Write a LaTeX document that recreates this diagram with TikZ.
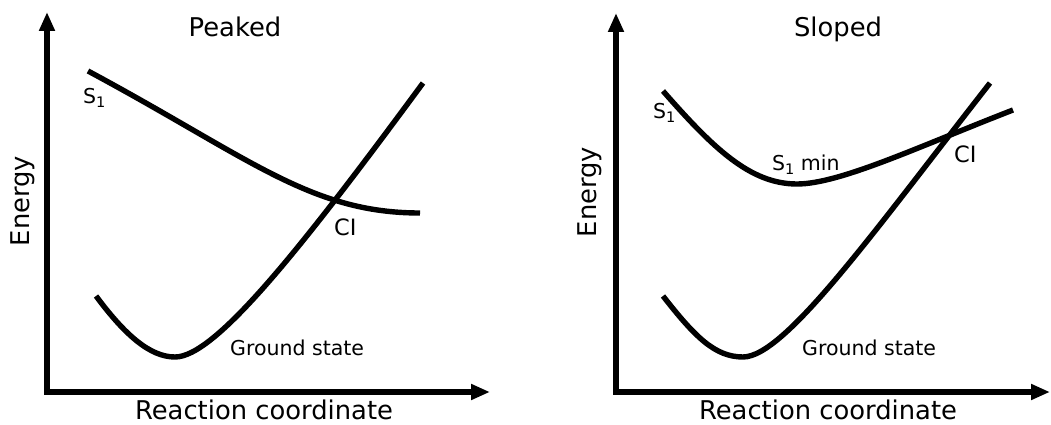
\documentclass[tikz,border=0pt]{standalone}
\usepackage{fontspec}
\setmainfont{DejaVu Sans}
\usetikzlibrary{arrows.meta}
\newcommand{\subone}{\raisebox{-4pt}{\fontsize{14.5}{14.5}\selectfont 1}}
\begin{document}
\begin{tikzpicture}[x=1pt,y=-1pt,
  axis/.style={line width=6pt, line join=miter,
    {Triangle[length=19pt,width=15pt]}-{Triangle[length=19pt,width=15pt]}},
  curve/.style={line width=5.4pt},
  title/.style={font=\fontsize{25.8}{30}\selectfont, anchor=base, inner sep=0pt},
  lbl/.style={font=\fontsize{20.5}{24}\selectfont, anchor=base west, inner sep=0pt},
  cilbl/.style={font=\fontsize{22.5}{26}\selectfont, anchor=base west, inner sep=0pt}]
\useasboundingbox (0,0) rectangle (1051,425);

% ---------- left panel: Peaked ----------
\coordinate (ytipL) at (47,12);
\coordinate (origL) at (47,392);
\coordinate (xtipL) at (490,392);
\draw[axis] (ytipL) -- (origL) -- (xtipL);

\draw[curve] (88,71) .. controls (250,158) and (310,213) .. (420,213);
\draw[curve] (96,296) .. controls (125,335) and (150,357) .. (175,357)
             .. controls (215,357) and (300,250) .. (423,83);

\node[title] (titleL) at (235,37) {Peaked};
\node[title] (xlabL) at (264,419) {Reaction coordinate};
\node[title, rotate=90] (ylabL) at (29,201) {Energy};
\node[lbl] (s1L) at (83,103) {S\subone};
\node[cilbl] (ciL) at (334,235) {CI};
\node[lbl] (gsL) at (230,355) {Ground state};

% ---------- right panel: Sloped ----------
\coordinate (ytipR) at (616,13);
\coordinate (origR) at (616,392);
\coordinate (xtipR) at (1050,392);
\draw[axis] (ytipR) -- (origR) -- (xtipR);

\draw[curve] (663,91) .. controls (713,148) and (750,184) .. (797,184)
             .. controls (840,184) and (920,146) .. (1013,110);
\draw[curve] (663,296) .. controls (695,337) and (715,357) .. (743,357)
             .. controls (785,357) and (875,230) .. (990,83);

\node[title] (titleR) at (838,37) {Sloped};
\node[title] (xlabR) at (828,419) {Reaction coordinate};
\node[title, rotate=90] (ylabR) at (596,192) {Energy};
\node[lbl] (s1R) at (653,118) {S\subone};
\node[lbl] (s1min) at (772,170) {S\subone\ min};
\node[cilbl] (ciR) at (954,162) {CI};
\node[lbl] (gsR) at (802,355) {Ground state};
\end{tikzpicture}
\end{document}
